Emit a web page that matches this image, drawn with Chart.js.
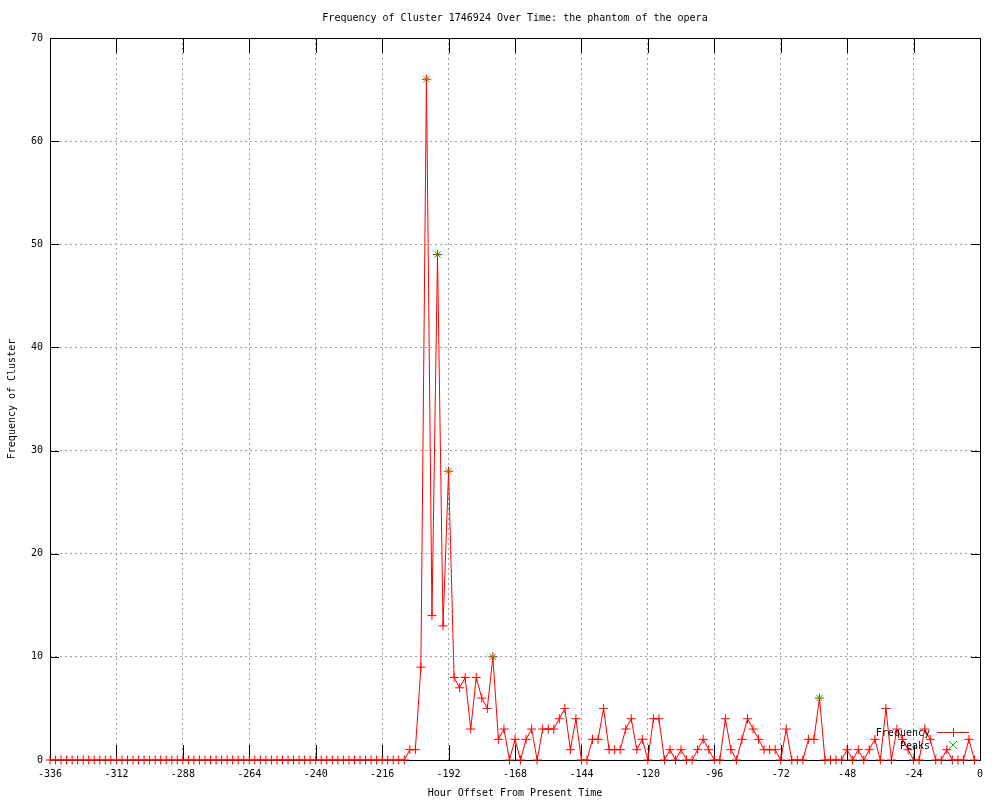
<!DOCTYPE html>
<html>
<head>
<meta charset="utf-8">
<script src="https://cdn.jsdelivr.net/npm/chart.js@4/dist/chart.umd.min.js"></script>
<style>
html,body{margin:0;padding:0;background:#fff;}
#wrap{width:1000px;height:800px;}
</style>
</head>
<body>
<div id="wrap"><canvas id="c" width="1000" height="800"></canvas></div>
<script>
const titleText = "Frequency of Cluster 1746924 Over Time: the phantom of the opera";
const xTitle = "Hour Offset From Present Time";
const yTitle = "Frequency of Cluster";

const hours = [
-336,-334,-332,-330,-328,-326,-324,-322,-320,-318,-316,-314,-312,-310,-308,-306,-304,-302,-300,-298,
-296,-294,-292,-290,-288,-286,-284,-282,-280,-278,-276,-274,-272,-270,-268,-266,-264,-262,-260,-258,
-256,-254,-252,-250,-248,-246,-244,-242,-240,-238,-236,-234,-232,-230,-228,-226,-224,-222,-220,-218,
-216,-214,-212,-210,-208,-206,-204,-202,-200,-198,-196,-194,-192,-190,-188,-186,-184,-182,-180,-178,
-176,-174,-172,-170,-168,-166,-164,-162,-160,-158,-156,-154,-152,-150,-148,-146,-144,-142,-140,-138,
-136,-134,-132,-130,-128,-126,-124,-122,-120,-118,-116,-114,-112,-110,-108,-106,-104,-102,-100,-98,
-96,-94,-92,-90,-88,-86,-84,-82,-80,-78,-76,-74,-72,-70,-68,-66,-64,-62,-60,-58,
-56,-54,-52,-50,-48,-46,-44,-42,-40,-38,-36,-34,-32,-30,-28,-26,-24,-22,-20,-18,
-16,-14,-12,-10,-8,-6,-4,-2
];

const frequency = [
0,0,0,0,0,0,0,0,0,0,0,0,0,0,0,0,0,0,0,0,
0,0,0,0,0,0,0,0,0,0,0,0,0,0,0,0,0,0,0,0,
0,0,0,0,0,0,0,0,0,0,0,0,0,0,0,0,0,0,0,0,
0,0,0,0,0,1,1,9,66,14,49,13,28,8,7,8,3,8,6,5,
10,2,3,0,2,0,2,3,0,3,3,3,4,5,1,4,0,0,2,2,
5,1,1,1,3,4,1,2,0,4,4,0,1,0,1,0,0,1,2,1,
0,0,4,1,0,2,4,3,2,1,1,1,0,3,0,0,0,2,2,6,
0,0,0,0,1,0,1,0,1,2,0,5,0,3,2,1,0,0,3,2,
0,0,1,0,0,0,2,0
];

const peakHours = [-200, -196, -192, -176, -58];
const peakValues = [66, 49, 28, 10, 6];

const xTicks = [-336,-312,-288,-264,-240,-216,-192,-168,-144,-120,-96,-72,-48,-24,0];
const yTicks = [0,10,20,30,40,50,60,70];

const FONT = "'DejaVu Sans Mono', 'Liberation Mono', monospace";
const RED = '#ff0000';
const GREEN = '#00c000';

const freqData = hours.map((h, i) => ({x: h, y: frequency[i]}));
const peakData = peakHours.map((h, i) => ({x: h, y: peakValues[i]}));

const frame = {
  id: 'frame',
  beforeDatasetsDraw(chart) {
    const {ctx, chartArea: a, scales: {x, y}} = chart;
    ctx.save();
    ctx.strokeStyle = '#000';
    ctx.lineWidth = 1;
    ctx.beginPath();
    xTicks.forEach(v => {
      const px = Math.round(x.getPixelForValue(v)) + 0.5;
      ctx.moveTo(px, a.bottom); ctx.lineTo(px, a.bottom - 15);
      ctx.moveTo(px, a.top); ctx.lineTo(px, a.top + 15);
    });
    yTicks.forEach(v => {
      const py = Math.round(y.getPixelForValue(v)) + 0.5;
      ctx.moveTo(a.left, py); ctx.lineTo(a.left + 9, py);
      ctx.moveTo(a.right, py); ctx.lineTo(a.right - 9, py);
    });
    ctx.stroke();
    ctx.strokeRect(Math.round(a.left) + 0.5, Math.round(a.top) + 0.5,
      Math.round(a.right - a.left), Math.round(a.bottom - a.top));
    ctx.restore();
  },
  afterDraw(chart) {
    const {ctx, chartArea: a} = chart;
    const ds = chart.data.datasets;
    ctx.save();
    ctx.font = '10px ' + FONT;
    ctx.fillStyle = '#000';
    ctx.textBaseline = 'middle';
    ctx.textAlign = 'center';
    ctx.fillText(titleText, (a.left + a.right) / 2, 18);
    ctx.textAlign = 'right';
    const tx = 930, sx0 = 937, sx1 = 969, mx = 953;
    const rows = [733, 746];
    ctx.fillText(ds[0].label, tx, rows[0]);
    ctx.fillText(ds[1].label, tx, rows[1]);
    ctx.strokeStyle = RED; ctx.lineWidth = 1;
    ctx.beginPath();
    ctx.moveTo(sx0, rows[0] - 0.5); ctx.lineTo(sx1, rows[0] - 0.5);
    ctx.moveTo(mx + 0.5, rows[0] - 5); ctx.lineTo(mx + 0.5, rows[0] + 4);
    ctx.stroke();
    ctx.strokeStyle = GREEN;
    ctx.beginPath();
    ctx.moveTo(mx - 4, rows[1] - 5); ctx.lineTo(mx + 4, rows[1] + 3);
    ctx.moveTo(mx + 4, rows[1] - 5); ctx.lineTo(mx - 4, rows[1] + 3);
    ctx.stroke();
    ctx.restore();
  }
};

new Chart(document.getElementById('c'), {
  type: 'line',
  data: {
    datasets: [
      {
        label: 'Frequency',
        data: freqData,
        borderColor: RED,
        backgroundColor: RED,
        borderWidth: 1,
        tension: 0,
        pointStyle: 'cross',
        pointRadius: 4.5,
        pointBorderColor: RED,
        pointBorderWidth: 1,
        clip: false,
        order: 2
      },
      {
        label: 'Peaks',
        data: peakData,
        showLine: false,
        borderColor: GREEN,
        backgroundColor: GREEN,
        pointStyle: 'crossRot',
        pointRadius: 4.5,
        pointBorderColor: GREEN,
        pointBorderWidth: 1,
        clip: false,
        order: 1
      }
    ]
  },
  options: {
    responsive: false,
    animation: false,
    layout: {padding: {left: 0, right: 20, top: 38, bottom: 0}},
    plugins: {
      legend: {display: false},
      tooltip: {enabled: false},
      title: {display: false}
    },
    scales: {
      x: {
        type: 'linear',
        min: -336, max: 0,
        afterFit(s) { s.height = 40; },
        afterBuildTicks(s) { s.ticks = xTicks.map(v => ({value: v})); },
        ticks: {color: '#000', font: {family: FONT, size: 10}, padding: 8, maxRotation: 0, autoSkip: false},
        grid: {color: '#a0a0a0', lineWidth: 1, drawTicks: false},
        border: {display: false, dash: [2, 3]},
        title: {display: true, text: xTitle, color: '#000', font: {family: FONT, size: 10}, padding: {top: 0, bottom: 1}}
      },
      y: {
        type: 'linear',
        min: 0, max: 70,
        afterFit(s) { s.width = 50; },
        afterBuildTicks(s) { s.ticks = yTicks.map(v => ({value: v})); },
        ticks: {color: '#000', font: {family: FONT, size: 10}, padding: 7},
        grid: {color: '#a0a0a0', lineWidth: 1, drawTicks: false},
        border: {display: false, dash: [2, 3]},
        title: {display: true, text: yTitle, color: '#000', font: {family: FONT, size: 10}, padding: {top: 6, bottom: 0}}
      }
    }
  },
  plugins: [frame]
});
</script>
</body>
</html>
